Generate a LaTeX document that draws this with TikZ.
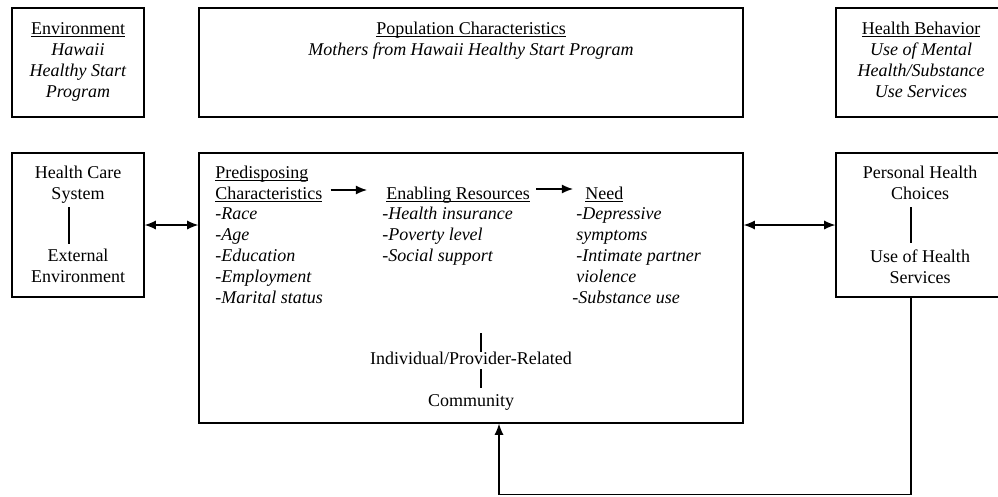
\documentclass[tikz,border=0pt]{standalone}
\usepackage{fontspec}
\setmainfont{Liberation Serif}
\usetikzlibrary{arrows.meta,fit}

\newcommand{\hdr}[1]{\underline{\raisebox{0pt}[\height][0pt]{#1}}}

\tikzset{
  box/.style={draw, line width=0.9pt, inner sep=0pt},
  txt/.style={inner sep=0pt, anchor=base},
  item/.style={inner sep=0pt, anchor=base west},
  bar/.style={line width=0.8pt},
  arr/.style={-{Latex[length=8pt,width=6.5pt]}, line width=0.9pt},
  dbl/.style={{Latex[length=8pt,width=6.5pt]}-{Latex[length=8pt,width=6.5pt]}, line width=0.9pt}
}

\begin{document}
\begin{tikzpicture}[x=0.025cm, y=-0.025cm, font=\fontsize{12.8}{15}\selectfont]
\useasboundingbox (0,0) rectangle (998,496);
\clip (0,0) rectangle (998,496);

% top row
\node[box, fit={(12,8) (144,117)}] (env) {};
\node[box, fit={(199,8) (743,117)}] (pop) {};
\node[box, fit={(836,8) (1004,117)}] (beh) {};

\node[txt] (envt) at (78,34) {\hdr{Environment}};
\foreach \t [count=\i] in {Hawaii, Healthy Start, Program}
    \node[txt] (envl\i) at (78,34+21*\i) {\textit{\t}};

\node[txt] (popt) at (471,34) {\hdr{Population Characteristics}};
\node[txt] (popl) at (471,55) {\textit{Mothers from Hawaii Healthy Start Program}};

\node[txt] (beht) at (921,34) {\hdr{Health Behavior}};
\foreach \t [count=\i] in {Use of Mental, Health/Substance, Use Services}
    \node[txt] (behl\i) at (921,34+21*\i) {\textit{\t}};

% bottom row
\node[box, fit={(12,153) (144,297)}] (hcs) {};
\node[box, fit={(199,153) (743,423)}] (main) {};
\node[box, fit={(836,153) (1004,297)}] (phc) {};

\node[txt] (hcs1) at (78,178) {Health Care};
\node[txt] (hcs2) at (78,199) {System};
\node[txt] (hcs3) at (78,261) {External};
\node[txt] (hcs4) at (78,282) {Environment};
\draw[bar] (69,207) -- (69,244);

\node[item] (pre1) at (215,178) {\hdr{Predisposing}};
\node[item] (pre2) at (215,199) {\hdr{Characteristics}};
\foreach \t [count=\i] in {Race, Age, Education, Employment, Marital status}
    \node[item] (prei\i) at (215,199+20.8*\i) {\textit{-\t}};

\node[item] (enb) at (386,199) {\hdr{Enabling Resources}};
\foreach \t [count=\i] in {-Health insurance, -Poverty level, -Social support}
    \node[item] (enbi\i) at (382,199+20.8*\i) {\textit{\t}};

\node[item] (need) at (585,199) {\hdr{Need}};
\foreach \t [count=\i] in {-Depressive, symptoms, -Intimate partner, violence}
    \node[item] (needi\i) at (576,199+20.8*\i) {\textit{\t}};
\node[item] (needi5) at (572,303) {\textit{-Substance use}};

\draw[arr] ([shift={(8,-9)}]pre2.base east) -- ([shift={(-19,-9)}]enb.base west);
\draw[arr] ([shift={(6,-10)}]enb.base east) -- ([shift={(-12,-10)}]need.base west);

\node[txt] (ind) at (471,364) {Individual/Provider-Related};
\node[txt] (com) at (471,406) {Community};
\draw[bar] (481,333) -- (481,352);
\draw[bar] (481,369) -- (481,388);

\node[txt] (phc1) at (920,178) {Personal Health};
\node[txt] (phc2) at (920,199) {Choices};
\node[txt] (phc3) at (920,262) {Use of Health};
\node[txt] (phc4) at (920,283) {Services};
\draw[bar] (911,207) -- (911,243);

% connectors
\draw[dbl] (hcs.east) -- (hcs.east -| main.west);
\draw[dbl] (main.east |- phc.west) -- (phc.west);

\coordinate (fbr) at (911,494.5);
\coordinate (fbl) at (499,494.5);
\draw[arr] (phc.south -| fbr) -- (fbr) -- (fbl) -- (main.south -| fbl);
\end{tikzpicture}
\end{document}
